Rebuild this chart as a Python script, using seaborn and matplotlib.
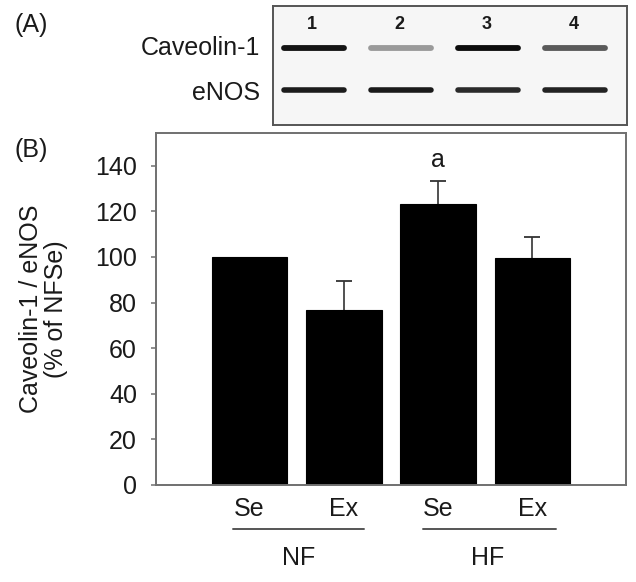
import matplotlib
matplotlib.use("Agg")
import matplotlib.pyplot as plt
import seaborn as sns
import pandas as pd

# ---- data ----
conditions = ["NF-Se", "NF-Ex", "HF-Se", "HF-Ex"]
tick_labels = ["Se", "Ex", "Se", "Ex"]
groups = ["NF", "HF"]
values = [100, 76.8, 123.1, 99.4]
errors = [0, 12.7, 10.2, 9.4]
sig_label = "a"
sig_index = 2
sig_height = 142.5

lanes = ["1", "2", "3", "4"]
blot_rows = ["Caveolin-1", "eNOS"]
cav_band_gray = ["#141414", "#9a9a9a", "#0c0c0c", "#5a5a5a"]
enos_band_gray = ["#1c1c1c", "#1a1a1a", "#2a2a2a", "#222222"]

sns.set_theme(style="white")
plt.rcParams["font.family"] = ["Liberation Sans", "DejaVu Sans"]
TXT = "#1a1a1a"
plt.rcParams["text.color"] = TXT
plt.rcParams["axes.labelcolor"] = TXT
plt.rcParams["xtick.color"] = TXT
plt.rcParams["ytick.color"] = TXT

FS = 18
SPINE = "#707070"

fig = plt.figure(figsize=(6.36, 5.82), dpi=100)

# ---- panel B: bar chart ----
ax = fig.add_axes([156/636, 1-485/582, (625.7-156)/636, (485-132.7)/582])
df = pd.DataFrame({"cond": conditions, "val": values})
sns.barplot(data=df, x="cond", y="val", order=conditions, color="black",
            saturation=1, width=0.8, errorbar=None, ax=ax,
            edgecolor="black", linewidth=0.8)
for p in ax.patches:
    p.set_zorder(3)
err_x = [1, 2, 3]
err_lo = values[1:]
err_hi = [v + e for v, e in zip(values[1:], errors[1:])]
ax.vlines(err_x, err_lo, err_hi, colors="#333333", linewidth=1.2, zorder=1)
ax.plot(err_x, err_hi, ls="none", marker="_", ms=11, mew=1.3, color="#333333", zorder=1)
ax.set_ylim(0, 154.5)
ax.set_xlim(-0.993, 3.99)
ax.set_yticks(range(0, 141, 20))
ax.set_xticks(range(4))
ax.set_xticklabels(tick_labels)
ax.tick_params(axis="y", which="major", direction="out", length=3.6, width=1.1,
               color=SPINE, labelcolor=TXT, pad=10, labelsize=FS, left=True)
ax.tick_params(axis="x", length=0, pad=9, labelsize=FS, labelcolor=TXT)
ax.set_xlabel("")
ax.set_ylabel("Caveolin-1 / eNOS\n(% of NFSe)", fontsize=FS, linespacing=1.1)
ax.yaxis.set_label_coords(-0.2395, 0.5)
ax.yaxis.label.set_va("center")
for s in ax.spines.values():
    s.set_color(SPINE)
    s.set_linewidth(1.4)
    s.set_visible(True)
    s.set_zorder(4)

ax.text(sig_index, sig_height, sig_label, ha="center", va="center", fontsize=FS)

# group brackets
trans = ax.get_xaxis_transform()
for (x0, x1), g, cx in zip([(-0.18, 1.215), (1.84, 3.25)], groups, [0.52, 2.52]):
    ax.plot([x0, x1], [-0.1249, -0.1249], transform=trans, color="#555555",
            lw=1.4, clip_on=False)
    ax.text(cx, -0.2271, g, transform=trans, ha="center", va="baseline", fontsize=FS)

# ---- panel A: blot ----
bx = fig.add_axes([272.7/636, 1-125/582, (626.7-272.7)/636, (125-5.7)/582])
bx.set_facecolor("#f6f6f6")
bx.set_xlim(-0.475, 3.594)
bx.set_ylim(1, 0)
bx.set_xticks([])
bx.set_yticks([])
for s in bx.spines.values():
    s.set_color("#555555")
    s.set_linewidth(1.4)
    s.set_visible(True)
hw = 0.34
for i, lab in enumerate(lanes):
    bx.text(i - 0.02, 0.16, lab, ha="center", va="center", fontsize=13, fontweight="bold")
    bx.plot([i - hw, i + hw], [0.355, 0.355], color=cav_band_gray[i], lw=4.2,
            solid_capstyle="round")
    bx.plot([i - hw, i + hw], [0.71, 0.71], color=enos_band_gray[i], lw=4.0,
            solid_capstyle="round")

fig.text(260/636, 1-48/582, blot_rows[0], ha="right", va="center", fontsize=FS)
fig.text(260/636, 1-93/582, blot_rows[1], ha="right", va="center", fontsize=FS)
fig.text(15/636, 1-25/582, "(A)", ha="left", va="center", fontsize=FS)
fig.text(15/636, 1-150/582, "(B)", ha="left", va="center", fontsize=FS)

fig.savefig("out.png", dpi=100)
